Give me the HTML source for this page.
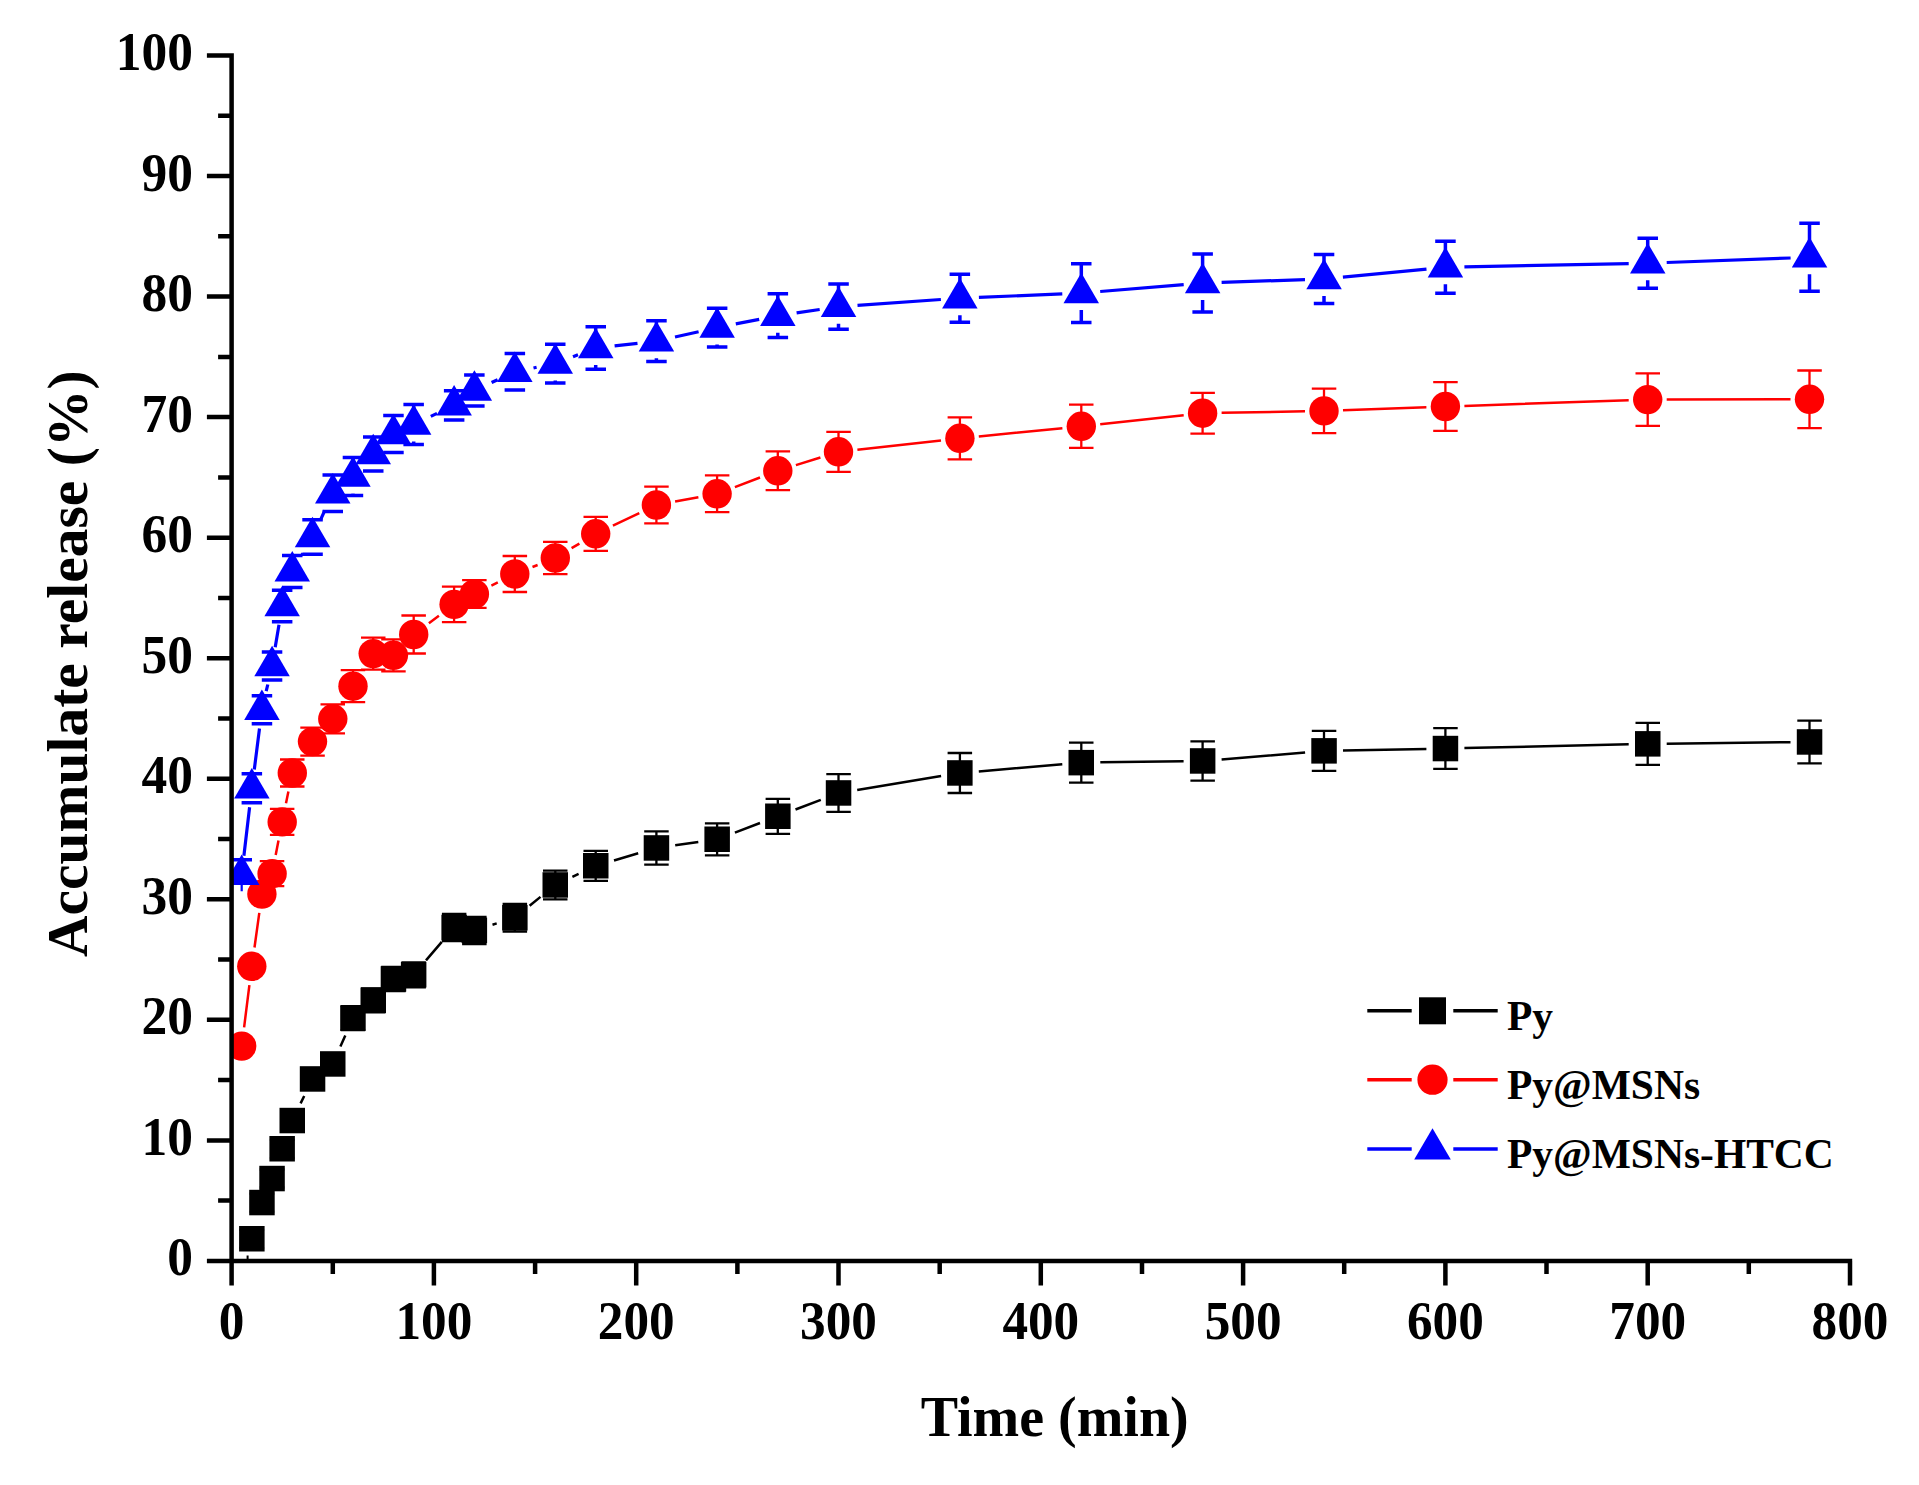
<!DOCTYPE html>
<html lang="en"><head><meta charset="utf-8"><title>Accumulate release</title>
<style>html,body{margin:0;padding:0;background:#fff}svg{display:block}</style></head>
<body>
<svg width="1919" height="1485" viewBox="0 0 1919 1485">
<rect width="1919" height="1485" fill="#fff"/>
<clipPath id="fr"><rect x="231.6" y="0" width="1700" height="1260.9"/></clipPath>
<g clip-path="url(#fr)">
<path d="M251.8 1229.8V1247.8M239.6 1229.8H264.1M239.6 1247.8H264.1M261.9 1193.6V1211.6M249.7 1193.6H274.2M249.7 1211.6H274.2M272.1 1169.5V1187.5M259.8 1169.5H284.3M259.8 1187.5H284.3M282.2 1139.8V1157.8M269.9 1139.8H294.4M269.9 1157.8H294.4M292.3 1111.5V1129.5M280 1111.5H304.5M280 1129.5H304.5M312.5 1069.9V1087.9M300.3 1069.9H324.8M300.3 1087.9H324.8M332.8 1054.9V1072.9M320.5 1054.9H345M320.5 1072.9H345M353 1006.1V1030.1M340.7 1006.1H365.2M340.7 1030.1H365.2M373.2 988.3V1012.3M361 988.3H385.5M361 1012.3H385.5M393.4 967V991M381.2 967H405.7M381.2 991H405.7M413.7 962.3V987.3M401.4 962.3H425.9M401.4 987.3H425.9M454.1 913.9V941.1M441.9 913.9H466.4M441.9 941.1H466.4M474.4 916.8V944M462.1 916.8H486.6M462.1 944H486.6M514.8 903.9V931.5M502.6 903.9H527.1M502.6 931.5H527.1M555.3 870.6V899.4M543 870.6H567.5M543 899.4H567.5M595.7 850.8V880.8M583.5 850.8H608M583.5 880.8H608M656.4 831.4V864.6M644.2 831.4H668.7M644.2 864.6H668.7M717.1 823.3V855.3M704.9 823.3H729.4M704.9 855.3H729.4M777.8 798.8V833.8M765.6 798.8H790.1M765.6 833.8H790.1M838.5 774.2V811.8M826.3 774.2H850.8M826.3 811.8H850.8M959.9 753V793M947.6 753H972.1M947.6 793H972.1M1081.3 742.6V782.6M1069 742.6H1093.5M1069 782.6H1093.5M1202.6 741.3V780.7M1190.4 741.3H1214.9M1190.4 780.7H1214.9M1324 730.9V770.9M1311.8 730.9H1336.3M1311.8 770.9H1336.3M1445.4 728.1V768.9M1433.2 728.1H1457.7M1433.2 768.9H1457.7M1647.7 722.9V764.9M1635.5 722.9H1660M1635.5 764.9H1660M1809.5 720.6V763.4M1797.3 720.6H1821.8M1797.3 763.4H1821.8" stroke="#000" stroke-width="2.3" fill="none"/>
<path d="M300.6 1103.4L304.2 1096M340.4 1046.5L345.3 1035.5M426 960.4L441.8 941.9M492.5 924.7L496.7 923.4M529.6 905.8L540.5 896.9M572.4 876.9L578.6 873.9M614 860.5L638.2 853.3M675.2 845.3L698.3 842M734.9 832.6L760 823M795.5 809.5L820.8 799.8M857.2 789.9L941.1 776.1M978.8 771.4L1062.3 764.2M1100.3 762.3L1183.6 761.3M1221.6 759.4L1305.1 752.5M1343 750.5L1426.4 748.9M1464.4 748.1L1628.7 744.3M1666.7 743.7L1790.5 742.2" stroke="#000" stroke-width="2.5" fill="none"/>
<g fill="#000"><rect x="239.1" y="1226" width="25.5" height="25.5"/><rect x="249.2" y="1189.8" width="25.5" height="25.5"/><rect x="259.3" y="1165.8" width="25.5" height="25.5"/><rect x="269.4" y="1136" width="25.5" height="25.5"/><rect x="279.5" y="1107.8" width="25.5" height="25.5"/><rect x="299.8" y="1066.2" width="25.5" height="25.5"/><rect x="320" y="1051.2" width="25.5" height="25.5"/><rect x="340.2" y="1005.4" width="25.5" height="25.5"/><rect x="360.5" y="987.5" width="25.5" height="25.5"/><rect x="380.7" y="966.2" width="25.5" height="25.5"/><rect x="400.9" y="962" width="25.5" height="25.5"/><rect x="441.4" y="914.8" width="25.5" height="25.5"/><rect x="461.6" y="917.6" width="25.5" height="25.5"/><rect x="502.1" y="905" width="25.5" height="25.5"/><rect x="542.5" y="872.2" width="25.5" height="25.5"/><rect x="583" y="853" width="25.5" height="25.5"/><rect x="643.7" y="835.2" width="25.5" height="25.5"/><rect x="704.4" y="826.5" width="25.5" height="25.5"/><rect x="765.1" y="803.5" width="25.5" height="25.5"/><rect x="825.8" y="780.2" width="25.5" height="25.5"/><rect x="947.1" y="760.2" width="25.5" height="25.5"/><rect x="1068.5" y="749.9" width="25.5" height="25.5"/><rect x="1189.9" y="748.2" width="25.5" height="25.5"/><rect x="1311.3" y="738.1" width="25.5" height="25.5"/><rect x="1432.7" y="735.8" width="25.5" height="25.5"/><rect x="1635" y="731.1" width="25.5" height="25.5"/><rect x="1796.8" y="729.2" width="25.5" height="25.5"/></g>
<path d="M241.7 1040.1V1052.1M229.5 1040.1H254M229.5 1052.1H254M251.8 960.3V972.3M239.6 960.3H264.1M239.6 972.3H264.1M261.9 888.1V900.1M249.7 888.1H274.2M249.7 900.1H274.2M272.1 861.2V886.2M259.8 861.2H284.3M259.8 886.2H284.3M282.2 808.9V834.9M269.9 808.9H294.4M269.9 834.9H294.4M292.3 759.5V786.5M280 759.5H304.5M280 786.5H304.5M312.5 727.6V755.6M300.3 727.6H324.8M300.3 755.6H324.8M332.8 704.3V733.3M320.5 704.3H345M320.5 733.3H345M353 670.2V702.2M340.7 670.2H365.2M340.7 702.2H365.2M373.2 637.6V669.6M361 637.6H385.5M361 669.6H385.5M393.4 639.3V671.3M381.2 639.3H405.7M381.2 671.3H405.7M413.7 615.5V653.5M401.4 615.5H425.9M401.4 653.5H425.9M454.1 586.7V622.1M441.9 586.7H466.4M441.9 622.1H466.4M474.4 580.2V607.8M462.1 580.2H486.6M462.1 607.8H486.6M514.8 556V592M502.6 556H527.1M502.6 592H527.1M555.3 541.8V574.2M543 541.8H567.5M543 574.2H567.5M595.7 516.8V550.8M583.5 516.8H608M583.5 550.8H608M656.4 486.6V523.4M644.2 486.6H668.7M644.2 523.4H668.7M717.1 475.4V512.2M704.9 475.4H729.4M704.9 512.2H729.4M777.8 451.4V490.2M765.6 451.4H790.1M765.6 490.2H790.1M838.5 431.8V471.8M826.3 431.8H850.8M826.3 471.8H850.8M959.9 417.3V459.3M947.6 417.3H972.1M947.6 459.3H972.1M1081.3 404.7V447.9M1069 404.7H1093.5M1069 447.9H1093.5M1202.6 392.8V433.6M1190.4 392.8H1214.9M1190.4 433.6H1214.9M1324 388.6V433.2M1311.8 388.6H1336.3M1311.8 433.2H1336.3M1445.4 382.1V430.9M1433.2 382.1H1457.7M1433.2 430.9H1457.7M1647.7 373.4V425.8M1635.5 373.4H1660M1635.5 425.8H1660M1809.5 370.5V428.1M1797.3 370.5H1821.8M1797.3 428.1H1821.8" stroke="#f00" stroke-width="2.3" fill="none"/>
<path d="M244.1 1027.3L249.4 985.1M254.5 947.5L259.3 912.9M275.7 855.1L278.5 840.5M286 803.3L288.4 791.6M428.9 623.2L438.9 615.7M491.4 585.6L497.8 582.4M532.5 567L537.6 565M571.6 548.2L579.4 543.6M612.9 525.7L639.3 513.1M675.1 501.6L698.4 497.2M734.9 487.1L760 477.5M795.9 465.1L820.4 457.5M857.4 449.7L941 440.4M978.8 436.4L1062.4 428.2M1100.2 424.3L1183.7 415.2M1221.6 412.8L1305 411.3M1343 410.2L1426.4 407.2M1464.4 405.9L1628.7 400.2M1666.7 399.6L1790.5 399.3" stroke="#f00" stroke-width="2.5" fill="none"/>
<g fill="#f00"><circle cx="241.7" cy="1046.1" r="14.7"/><circle cx="251.8" cy="966.3" r="14.7"/><circle cx="261.9" cy="894.1" r="14.7"/><circle cx="272.1" cy="873.7" r="14.7"/><circle cx="282.2" cy="821.9" r="14.7"/><circle cx="292.3" cy="773" r="14.7"/><circle cx="312.5" cy="741.6" r="14.7"/><circle cx="332.8" cy="718.8" r="14.7"/><circle cx="353" cy="686.2" r="14.7"/><circle cx="373.2" cy="653.6" r="14.7"/><circle cx="393.4" cy="655.3" r="14.7"/><circle cx="413.7" cy="634.5" r="14.7"/><circle cx="454.1" cy="604.4" r="14.7"/><circle cx="474.4" cy="594" r="14.7"/><circle cx="514.8" cy="574" r="14.7"/><circle cx="555.3" cy="558" r="14.7"/><circle cx="595.7" cy="533.8" r="14.7"/><circle cx="656.4" cy="505" r="14.7"/><circle cx="717.1" cy="493.8" r="14.7"/><circle cx="777.8" cy="470.8" r="14.7"/><circle cx="838.5" cy="451.8" r="14.7"/><circle cx="959.9" cy="438.3" r="14.7"/><circle cx="1081.3" cy="426.3" r="14.7"/><circle cx="1202.6" cy="413.2" r="14.7"/><circle cx="1324" cy="410.9" r="14.7"/><circle cx="1445.4" cy="406.5" r="14.7"/><circle cx="1647.7" cy="399.6" r="14.7"/><circle cx="1809.5" cy="399.3" r="14.7"/></g>
<path d="M241.7 859.7V874.7M231.5 859.7H252M251.8 773.8V788.3M241.6 773.8H262.1M241.6 802.8H262.1M261.9 695.7V709.7M251.7 695.7H272.2M251.7 723.7H272.2M272.1 652V666M261.8 652H282.3M261.8 680H282.3M282.2 590.3V606M271.9 590.3H292.4M271.9 621.7H292.4M292.3 555.4V571.4M282 555.4H302.5M282 587.4H302.5M312.5 519.8V537M312.5 554V554.2M302.3 519.8H322.8M302.3 554.2H322.8M332.8 475V493.3M332.8 510.3V511.6M322.5 475H343M322.5 511.6H343M353 457.6V476.6M353 493.6V495.6M342.7 457.6H363.2M342.7 495.6H363.2M373.2 437V454M363 437H383.5M363 471H383.5M393.4 415.5V434M393.4 451V452.5M383.2 415.5H403.7M383.2 452.5H403.7M413.7 404.5V424.5M413.7 441.5V444.5M403.4 404.5H423.9M403.4 444.5H423.9M454.1 390.7V405.3M443.9 390.7H464.4M443.9 419.9H464.4M474.4 374.9V390.5M464.1 374.9H484.6M464.1 406.1H484.6M514.8 353.4V371.7M514.8 388.7V390M504.6 353.4H525.1M504.6 390H525.1M555.3 344.2V363.6M555.3 380.6V383M545 344.2H565.5M545 383H565.5M595.7 326.7V348M595.7 365V369.3M585.5 326.7H606M585.5 369.3H606M656.4 320.8V341.2M656.4 358.2V361.6M646.2 320.8H666.7M646.2 361.6H666.7M717.1 308.2V327.6M717.1 344.6V347M706.9 308.2H727.4M706.9 347H727.4M777.8 293.8V315.7M777.8 332.7V337.6M767.6 293.8H788.1M767.6 337.6H788.1M838.5 284.1V306.7M838.5 323.7V329.3M828.3 284.1H848.8M828.3 329.3H848.8M959.9 274.2V298.2M959.9 315.2V322.2M949.6 274.2H970.1M949.6 322.2H970.1M1081.3 263.7V293.1M1081.3 310.1V322.5M1071 263.7H1091.5M1071 322.5H1091.5M1202.6 254V283M1202.6 300V312M1192.4 254H1212.9M1192.4 312H1212.9M1324 254.4V279M1324 296V303.6M1313.8 254.4H1334.3M1313.8 303.6H1334.3M1445.4 241.3V267.3M1445.4 284.3V293.3M1435.2 241.3H1455.7M1435.2 293.3H1455.7M1647.7 238.2V263.2M1647.7 280.2V288.2M1637.5 238.2H1658M1637.5 288.2H1658M1809.5 223.3V257.3M1809.5 274.3V291.3M1799.3 223.3H1819.8M1799.3 291.3H1819.8" stroke="#00f" stroke-width="3.5" fill="none"/>
<path d="M241.7 883.7V891.2" stroke="#00f" stroke-width="2.2" fill="none"/>
<path d="M243.9 855.8L249.6 807.2M254.3 769.5L259.5 728.5M266.2 691.2L267.8 684.5M275.2 647.3L279 624.7M301.9 555L302.9 553.4M320.5 519.8L324.8 510.5M430.8 416.4L437 413.4M491.6 382.5L497.6 379.7M533.5 368L536.6 367.3M573 356.8L578 354.8M614.6 345.9L637.5 343.3M675 337L698.6 331.8M735.8 323.9L759.2 319.4M796.6 312.9L819.7 309.5M857.5 305.4L940.9 299.5M978.9 297.4L1062.3 293.9M1100.2 291.5L1183.7 284.6M1221.6 282.4L1305 279.6M1342.9 277.2L1426.5 269.1M1464.4 266.9L1628.7 263.6M1666.7 262.5L1790.6 258" stroke="#00f" stroke-width="3.2" fill="none"/>
<g fill="#00f"><path d="M241.7 854.4L259.5 884.9H224Z"/><path d="M251.8 768L269.6 798.5H234.1Z"/><path d="M261.9 689.4L279.7 719.9H244.2Z"/><path d="M272.1 645.7L289.8 676.2H254.3Z"/><path d="M282.2 585.7L299.9 616.2H264.4Z"/><path d="M292.3 551.1L310 581.6H274.5Z"/><path d="M312.5 516.7L330.3 547.2H294.8Z"/><path d="M332.8 473L350.5 503.5H315Z"/><path d="M353 456.3L370.7 486.8H335.2Z"/><path d="M373.2 433.7L391 464.2H355.5Z"/><path d="M393.4 413.7L411.2 444.2H375.7Z"/><path d="M413.7 404.2L431.4 434.7H395.9Z"/><path d="M454.1 385L471.9 415.5H436.4Z"/><path d="M474.4 370.2L492.1 400.7H456.6Z"/><path d="M514.8 351.4L532.6 381.9H497.1Z"/><path d="M555.3 343.3L573 373.8H537.5Z"/><path d="M595.7 327.7L613.5 358.2H578Z"/><path d="M656.4 320.9L674.2 351.4H638.7Z"/><path d="M717.1 307.3L734.9 337.8H699.4Z"/><path d="M777.8 295.4L795.6 325.9H760.1Z"/><path d="M838.5 286.4L856.3 316.9H820.8Z"/><path d="M959.9 277.9L977.6 308.4H942.1Z"/><path d="M1081.3 272.8L1099 303.3H1063.5Z"/><path d="M1202.6 262.7L1220.4 293.2H1184.9Z"/><path d="M1324 258.7L1341.8 289.2H1306.3Z"/><path d="M1445.4 247L1463.2 277.5H1427.7Z"/><path d="M1647.7 242.9L1665.5 273.4H1630Z"/><path d="M1809.5 237L1827.3 267.5H1791.8Z"/></g>
<path d="M247.6 1255.5V1259" stroke="#000" stroke-width="2"/>
</g>
<path d="M231.6 53.2V1285.4M206.9 1260.9H1852.2M218.1 1200.6H231.6M206.9 1140.4H231.6M218.1 1080.1H231.6M206.9 1019.8H231.6M218.1 959.6H231.6M206.9 899.3H231.6M218.1 839H231.6M206.9 778.7H231.6M218.1 718.5H231.6M206.9 658.2H231.6M218.1 597.9H231.6M206.9 537.7H231.6M218.1 477.4H231.6M206.9 417.1H231.6M218.1 356.9H231.6M206.9 296.6H231.6M218.1 236.3H231.6M206.9 176H231.6M218.1 115.8H231.6M206.9 55.5H231.6M332.8 1260.9V1273.9M433.9 1260.9V1285.4M535.1 1260.9V1273.9M636.2 1260.9V1285.4M737.4 1260.9V1273.9M838.5 1260.9V1285.4M939.7 1260.9V1273.9M1040.8 1260.9V1285.4M1142 1260.9V1273.9M1243.1 1260.9V1285.4M1344.2 1260.9V1273.9M1445.4 1260.9V1285.4M1546.5 1260.9V1273.9M1647.7 1260.9V1285.4M1748.8 1260.9V1273.9M1850 1260.9V1285.4" stroke="#000" stroke-width="4.5" fill="none"/>
<g font-family="'Liberation Serif','Times New Roman',serif" font-weight="bold" fill="#000">
<g font-size="52" text-anchor="end">
<text transform="translate(193 1275.4) scale(0.99 1.05)">0</text>
<text transform="translate(193 1154.9) scale(0.99 1.05)">10</text>
<text transform="translate(193 1034.3) scale(0.99 1.05)">20</text>
<text transform="translate(193 913.8) scale(0.99 1.05)">30</text>
<text transform="translate(193 793.2) scale(0.99 1.05)">40</text>
<text transform="translate(193 672.7) scale(0.99 1.05)">50</text>
<text transform="translate(193 552.2) scale(0.99 1.05)">60</text>
<text transform="translate(193 431.6) scale(0.99 1.05)">70</text>
<text transform="translate(193 311.1) scale(0.99 1.05)">80</text>
<text transform="translate(193 190.5) scale(0.99 1.05)">90</text>
<text transform="translate(193 70) scale(0.99 1.05)">100</text>
</g>
<g font-size="52" text-anchor="middle">
<text transform="translate(231.6 1339.3) scale(0.985 1.04)">0</text>
<text transform="translate(433.9 1339.3) scale(0.985 1.04)">100</text>
<text transform="translate(636.2 1339.3) scale(0.985 1.04)">200</text>
<text transform="translate(838.5 1339.3) scale(0.985 1.04)">300</text>
<text transform="translate(1040.8 1339.3) scale(0.985 1.04)">400</text>
<text transform="translate(1243.1 1339.3) scale(0.985 1.04)">500</text>
<text transform="translate(1445.4 1339.3) scale(0.985 1.04)">600</text>
<text transform="translate(1647.7 1339.3) scale(0.985 1.04)">700</text>
<text transform="translate(1850 1339.3) scale(0.985 1.04)">800</text>
</g>
<text x="1054.7" y="1436" font-size="56" text-anchor="middle">Time (min)</text>
<text transform="translate(87.3 663.7) rotate(-90)" font-size="57.5" text-anchor="middle">Accumulate release (%)</text>
<g font-size="41.5">
<text x="1507" y="1029.7">Py</text>
<text x="1507" y="1098.9">Py@MSNs</text>
<text x="1507" y="1168.4">Py@MSNs-HTCC</text>
</g>
</g>
<path d="M1367.3 1010.8H1411.7M1453.3 1010.8H1497.7" stroke="#000" stroke-width="3.4" fill="none"/>
<g fill="#000"><rect x="1419" y="997.3" width="27" height="27"/></g>
<path d="M1367.3 1079.7H1411.7M1453.3 1079.7H1497.7" stroke="#f00" stroke-width="3.4" fill="none"/>
<g fill="#f00"><circle cx="1432.5" cy="1079.7" r="15.1"/></g>
<path d="M1367.3 1149H1411.7M1453.3 1149H1497.7" stroke="#00f" stroke-width="3.4" fill="none"/>
<g fill="#00f"><path d="M1432.5 1128.2L1450.8 1159.4H1414.2Z"/></g>
</svg>
</body></html>
